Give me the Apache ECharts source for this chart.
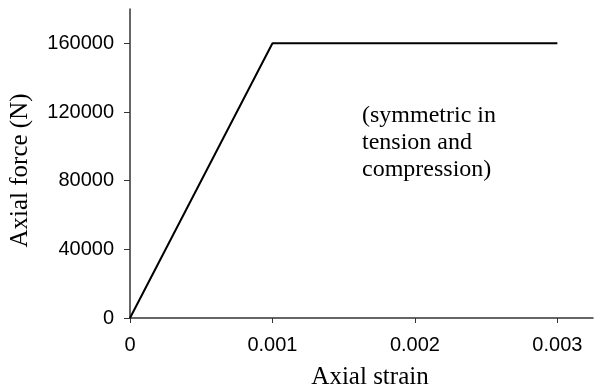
<!DOCTYPE html>
<html>
<head>
<meta charset="utf-8">
<script src="https://cdn.jsdelivr.net/npm/echarts@6/dist/echarts.min.js"></script>
<style>html,body{margin:0;padding:0;background:#fff;}#c{width:594px;height:392px;}</style>
</head>
<body>
<div id="c"></div>
<script>
const strain = [0, 0.001, 0.003];
const force = [0, 160000, 160000];
const xTicks = [0, 0.001, 0.002, 0.003];
const yTicks = [0, 40000, 80000, 120000, 160000];
const xName = 'Axial strain';
const yName = 'Axial force (N)';
const note = ['(symmetric in', 'tension and', 'compression)'];

const chart = echarts.init(document.getElementById('c'), null, {renderer: 'canvas'});
const tickFont = {fontFamily: 'Liberation Sans, Arial', fontSize: 20, color: '#000'};
const nameFont = {fontFamily: 'Liberation Serif, Times New Roman', fontSize: 25, color: '#000'};
chart.setOption({
  animation: false,
  backgroundColor: '#fff',
  grid: {left: 130, right: 1, top: 9, bottom: 74, containLabel: false, outerBoundsMode: 'none'},
  xAxis: {
    type: 'value', min: 0, max: 0.00325,
    name: xName, nameLocation: 'middle', nameGap: 47,
    nameTextStyle: Object.assign({}, nameFont, {padding: [0, 0, 0, 17]}),
    axisLine: {lineStyle: {color: '#333', width: 1.5}},
    axisTick: {show: true, length: 5, customValues: xTicks, lineStyle: {color: '#333'}},
    axisLabel: Object.assign({}, tickFont, {customValues: xTicks, margin: 17,
      formatter: v => v === 0 ? '0' : String(+v.toFixed(4))}),
    splitLine: {show: false}
  },
  yAxis: {
    type: 'value', min: 0, max: 180000,
    name: yName, nameLocation: 'middle', nameGap: 97,
    nameTextStyle: Object.assign({}, nameFont, {padding: [0, 14, 0, 0]}),
    axisLine: {show: true, lineStyle: {color: '#333', width: 1.5}},
    axisTick: {show: true, length: 6, customValues: yTicks, lineStyle: {color: '#333'}},
    axisLabel: Object.assign({}, tickFont, {customValues: yTicks, margin: 16,
      formatter: v => String(v)}),
    splitLine: {show: false}
  },
  graphic: [{
    type: 'text', left: 362, top: 102,
    style: {text: note.join('\n'), font: '24px "Liberation Serif", "Times New Roman"', lineHeight: 27, fill: '#000'}
  }],
  series: [{
    type: 'line',
    data: strain.map((s, i) => [s, force[i]]),
    symbol: 'none',
    lineStyle: {color: '#000', width: 2}
  }]
});
</script>
</body>
</html>
